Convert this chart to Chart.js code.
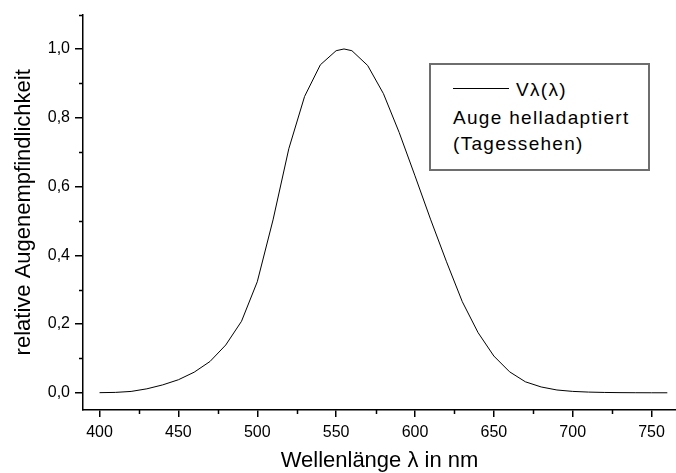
<!DOCTYPE html>
<html>
<head>
<meta charset="utf-8">
<script src="https://cdn.jsdelivr.net/npm/chart.js@4/dist/chart.umd.min.js"></script>
<style>
    html, body { margin: 0; padding: 0; background: #fff; }
    #wrap { position: relative; width: 676px; height: 473px; }
    #legend {
        position: absolute; left: 429px; top: 63px; width: 221px; height: 108px;
        box-sizing: border-box; border: 2px solid #6e6e6e; background: #fff;
        font-family: "Liberation Sans", Arial, sans-serif; font-size: 19px; letter-spacing: 1.3px; color: #000;
    }
    #legend span { position: absolute; white-space: nowrap; line-height: 19px; }
    #legend .sample { position: absolute; left: 22px; top: 23px; width: 56px; border-top: 1px solid #000; }
</style>
</head>
<body>
<div id="wrap">
    <canvas id="chart" width="676" height="473"></canvas>
    <div id="legend">
        <div class="sample"></div>
        <span style="left:85px; top:15px">Vλ(λ)</span>
        <span style="left:22px; top:43px">Auge helladaptiert</span>
        <span style="left:22px; top:69px">(Tagessehen)</span>
    </div>
</div>
<script>
// Wellenlänge in nm
const wavelengths = [400, 410, 420, 430, 440, 450, 460, 470, 480, 490, 500, 510, 520, 530, 540, 550, 555, 560,
    570, 580, 590, 600, 610, 620, 630, 640, 650, 660, 670, 680, 690, 700, 710, 720, 730, 740, 750, 760];
// V(lambda), Tagessehen
const vLambda = [0.0004, 0.0012, 0.004, 0.0116, 0.023, 0.038, 0.06, 0.091, 0.139, 0.208, 0.323, 0.503, 0.71,
    0.862, 0.954, 0.995, 1.0, 0.995, 0.952, 0.87, 0.757, 0.631, 0.503, 0.381, 0.265, 0.175, 0.107, 0.061,
    0.032, 0.017, 0.0082, 0.0041, 0.0021, 0.00105, 0.00052, 0.00025, 0.00012, 0.00006];

const xTicks = [400, 450, 500, 550, 600, 650, 700, 750];
const xMinorTicks = [425, 475, 525, 575, 625, 675, 725];
const yTicks = [0, 0.2, 0.4, 0.6, 0.8, 1.0];
const yMinorTicks = [0.1, 0.3, 0.5, 0.7, 0.9, 1.1];

const FONT = '"Liberation Sans", Arial, sans-serif';

// kurze Zwischenstriche an den Achsen
const minorTicks = {
    id: 'minorTicks',
    afterDraw(chart) {
        const { ctx, scales: { x, y } } = chart;
        ctx.save();
        ctx.strokeStyle = '#000';
        ctx.lineWidth = 1.5;
        ctx.beginPath();
        xMinorTicks.forEach(v => {
            const px = Math.round(x.getPixelForValue(v)) + 0.5;
            ctx.moveTo(px, x.top);
            ctx.lineTo(px, x.top + 4);
        });
        yMinorTicks.forEach(v => {
            const py = Math.round(y.getPixelForValue(v)) + 0.5;
            ctx.moveTo(y.right, py);
            ctx.lineTo(y.right - 4, py);
        });
        ctx.stroke();
        ctx.restore();
    }
};

new Chart(document.getElementById('chart'), {
    type: 'line',
    data: {
        datasets: [{
            label: 'Vλ(λ)',
            data: wavelengths.map((w, i) => ({ x: w, y: vLambda[i] })),
            borderColor: '#000',
            borderWidth: 1,
            pointRadius: 0,
            tension: 0,
            fill: false
        }]
    },
    options: {
        responsive: false,
        animation: false,
        layout: { padding: { top: 13, right: 0, left: 0, bottom: 0 } },
        plugins: { legend: { display: false }, tooltip: { enabled: false } },
        scales: {
            x: {
                type: 'linear',
                min: 389.5,
                max: 765.5,
                afterFit: s => { s.height = 63; },
                afterBuildTicks: s => { s.ticks = xTicks.map(v => ({ value: v })); },
                grid: { drawOnChartArea: false, drawTicks: true, tickLength: 7, color: '#000', lineWidth: 1.5 },
                border: { display: true, color: '#000', width: 1.5 },
                ticks: { color: '#000', padding: 6, font: { family: FONT, size: 16 }, maxRotation: 0 },
                title: {
                    display: true, text: 'Wellenlänge λ in nm', color: '#000',
                    font: { family: FONT, size: 22 }, padding: { top: 0, bottom: -1 }
                }
            },
            y: {
                min: -0.05,
                max: 1.1,
                afterFit: s => { s.width = 83; },
                afterBuildTicks: s => { s.ticks = yTicks.map(v => ({ value: v })); },
                grid: { drawOnChartArea: false, drawTicks: true, tickLength: 8, color: '#000', lineWidth: 1.5 },
                border: { display: true, color: '#000', width: 1.5 },
                ticks: {
                    color: '#000', padding: 5, font: { family: FONT, size: 16 },
                    callback: v => v.toFixed(1).replace('.', ',')
                },
                title: {
                    display: true, text: 'relative Augenempfindlichkeit', color: '#000',
                    font: { family: FONT, size: 22 }, padding: { top: 11, bottom: 0 }
                }
            }
        }
    },
    plugins: [minorTicks]
});
</script>
</body>
</html>
